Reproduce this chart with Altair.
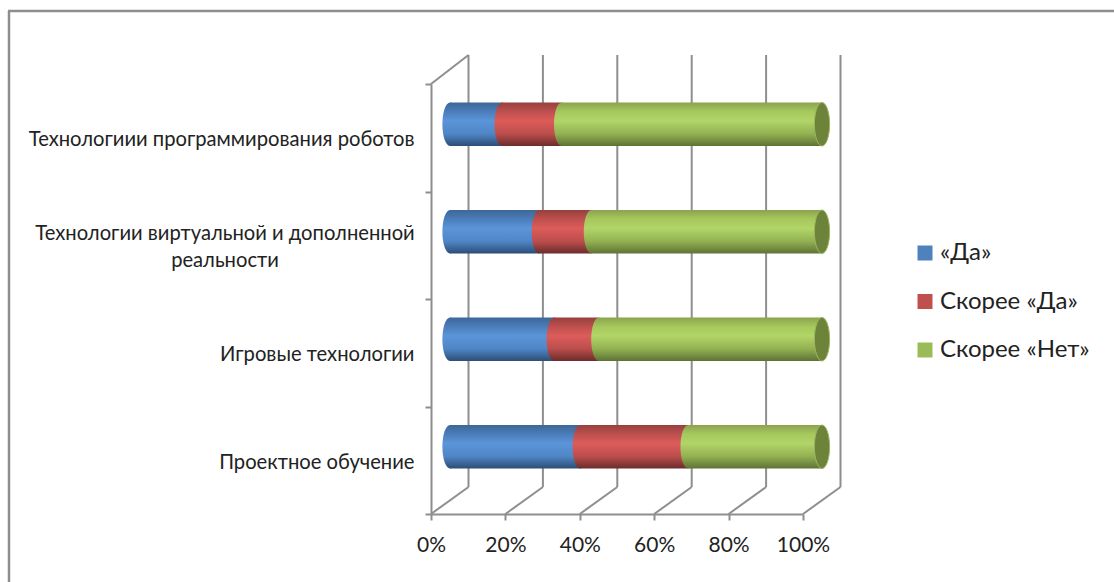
import altair as alt
import pandas as pd

categories = [
    "Технологиии программирования роботов",
    "Технологии виртуальной и дополненной|реальности",
    "Игровые технологии",
    "Проектное обучение",
]
series = ["«Да»", "Скорее «Да»", "Скорее «Нет»"]
yes_values = [14, 24, 28, 35]
rather_yes_values = [16, 14, 12, 29]
rather_no_values = [70, 62, 60, 36]
flat_colors = ["#4f81bd", "#c0504d", "#9bbb59"]
shading = [
    ["#3d6797", "#4a7cb8", "#5b95d9", "#4f86c6", "#2c4d75"],
    ["#96403e", "#bb4f4d", "#dd5c5a", "#bb4e4c", "#6b2c2b"],
    ["#8aa34e", "#a5c75c", "#b2d568", "#93b152", "#5d7335"],
]
ticks = [0, 20, 40, 60, 80, 100]

FONT = "Lato"
GREY = "#8e8e8e"
# Depth of the pseudo-3D box, and the offset of the cylinders sitting halfway in it
DEPTH_X, DEPTH_Y = 37.5, 27
MID_X, MID_Y = 19, 13.5
PLOT_W, PLOT_H = 372, 430
BAR_H = 43.5

rows = []
for i, cat in enumerate(categories):
    start = 0
    for name, vals in zip(series, [yes_values, rather_yes_values, rather_no_values]):
        rows.append({"cat": cat, "series": name, "start": start, "end": start + vals[i]})
        start += vals[i]
bars = pd.DataFrame(rows)
grid = pd.DataFrame({"pct": ticks})
ends = pd.DataFrame({"cat": categories, "end": [100] * len(categories)})
wrapped = pd.DataFrame({"cat": [c for c in categories if "|" in c]})

x_scale = alt.Scale(domain=[0, 100], nice=False)
y_enc = alt.Y(
    "cat:N",
    sort=categories,
    scale=alt.Scale(domain=categories, paddingInner=0, paddingOuter=0),
    title=None,
    axis=alt.Axis(
        # Two-line categories are written by their own centred text mark
        labelExpr="indexof(datum.label, '|') >= 0 ? '' : datum.label",
        labelFont=FONT,
        labelFontSize=20.2,
        labelColor="#222222",
        labelLimit=500,
        labelPadding=11,
        labelOffset=2,
        tickBand="extent",
        tickSize=6,
        tickWidth=2,
        tickColor=GREY,
        domainColor=GREY,
        domainWidth=2,
        grid=False,
    ),
)
x_enc = alt.X(
    "pct:Q",
    scale=x_scale,
    title=None,
    axis=alt.Axis(
        values=ticks,
        format="d",
        labelExpr="datum.value + '%'",
        labelFont=FONT,
        labelFontSize=21,
        labelColor="#222222",
        labelPadding=14,
        labelFlush=False,
        tickSize=6,
        tickWidth=2,
        tickColor=GREY,
        domainColor=GREY,
        domainWidth=2,
        grid=False,
    ),
)


def rule(**kw):
    return alt.Chart(grid).mark_rule(color=GREY, strokeWidth=2, **kw)


# Outer frame around the chart area
frame_top = alt.Chart(grid.head(1)).mark_rule(color=GREY, strokeWidth=2.5).encode(
    x=alt.value(-423), x2=alt.value(683), y=alt.value(-73)
)
frame_left = alt.Chart(grid.head(1)).mark_rule(color=GREY, strokeWidth=2.5).encode(
    x=alt.value(-422), y=alt.value(-73), y2=alt.value(498)
)

# Back wall uprights, floor diagonals and the single top-left diagonal
uprights = rule(xOffset=DEPTH_X, x2Offset=DEPTH_X).encode(
    x=x_enc, y=alt.value(-29), y2=alt.value(PLOT_H - DEPTH_Y)
)
floor = rule(x2Offset=DEPTH_X).encode(
    x=x_enc, x2="pct:Q", y=alt.value(PLOT_H), y2=alt.value(PLOT_H - DEPTH_Y)
)
top_diag = alt.Chart(grid.head(1)).mark_rule(color=GREY, strokeWidth=2, x2Offset=DEPTH_X).encode(
    x=x_enc, x2="pct:Q", y=alt.value(0), y2=alt.value(-29)
)

# Category label that needs two centred lines
wrapped_label = alt.Chart(wrapped).mark_text(
    font=FONT, fontSize=20.2, color="#222222", align="center", baseline="middle",
    lineBreak="|", lineHeight=27, yOffset=-11
).encode(x=alt.value(-206), y=y_enc, text="cat:N")

# Flat series colours underneath the shaded cylinders; these carry the legend
base = alt.Chart(bars).mark_bar(
    height=BAR_H - 1, xOffset=MID_X, x2Offset=MID_X, yOffset=-MID_Y
).encode(
    x=alt.X("start:Q", scale=x_scale, title=None),
    x2="end:Q",
    y=y_enc,
    color=alt.Color(
        "series:N",
        sort=series,
        scale=alt.Scale(domain=series, range=flat_colors),
        title=None,
        legend=alt.Legend(
            orient="none",
            legendX=482,
            legendY=157,
            symbolType="square",
            symbolSize=225,
            symbolStrokeWidth=0,
            labelFont=FONT,
            labelFontSize=24,
            labelColor="#222222",
            labelOffset=3,
            rowPadding=24.5,
            labelLimit=300,
        ),
    ),
)


def gradient(colors):
    offsets = [0, 0.2, 0.42, 0.72, 1]
    return alt.LinearGradient(
        gradient="linear",
        x1=0, x2=0, y1=0, y2=1,
        stops=[alt.GradientStop(color=c, offset=o) for c, o in zip(colors, offsets)],
    )


# Half-width 0.35 against a half-height of 1 gives the foreshortened cylinder end
ELLIPSE = "M0,-1 A0.35,1 0 1,0 0,1 A0.35,1 0 1,0 0,-1 Z"
CAP_SIZE = BAR_H ** 2

layers = [frame_top, frame_left, uprights, floor, top_diag, wrapped_label, base]
for name, colors in zip(series, shading):
    subset = bars[bars["series"] == name]
    layers.append(
        alt.Chart(subset).mark_bar(
            height=BAR_H, xOffset=MID_X, x2Offset=MID_X, yOffset=-MID_Y, fill=gradient(colors)
        ).encode(x=alt.X("start:Q", scale=x_scale, title=None), x2="end:Q", y=y_enc)
    )
    layers.append(
        alt.Chart(subset).mark_point(
            shape=ELLIPSE, size=CAP_SIZE, filled=True, opacity=1, strokeWidth=0,
            xOffset=MID_X, yOffset=-MID_Y, fill=gradient(colors)
        ).encode(x=alt.X("start:Q", scale=x_scale, title=None), y=y_enc)
    )

# Closing disc at the 100% end of every cylinder
layers.append(
    alt.Chart(ends).mark_point(
        shape=ELLIPSE, size=CAP_SIZE, filled=True, opacity=1, fill="#6c8339",
        stroke="#9fb563", strokeWidth=1, xOffset=MID_X, yOffset=-MID_Y
    ).encode(x=alt.X("end:Q", scale=x_scale, title=None), y=y_enc)
)

chart = alt.layer(*layers).properties(
    width=PLOT_W,
    height=PLOT_H,
    padding={"left": 431, "top": 84, "right": 311, "bottom": 68},
    autosize=alt.AutoSizeParams(type="none"),
    background="white",
).configure_view(stroke=None)

chart.save("out.html", embed_options={"renderer": "svg", "actions": False})
